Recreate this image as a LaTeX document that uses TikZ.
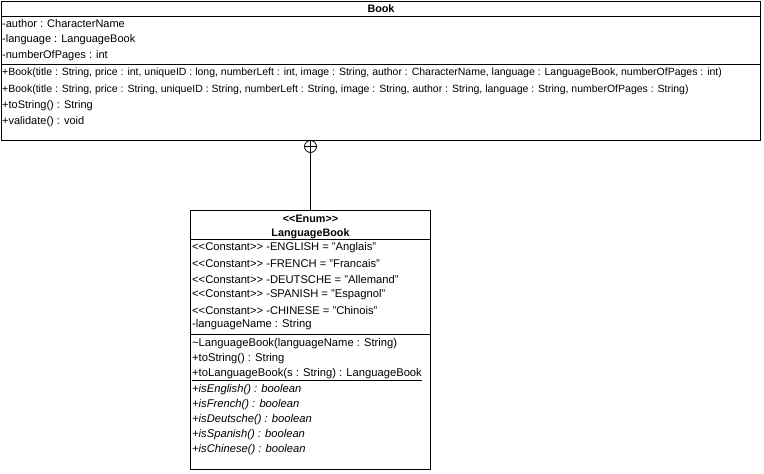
\documentclass[tikz,border=0pt]{standalone}
\usepackage{fontspec}
\setmainfont{Liberation Sans}
\begin{document}
\begin{tikzpicture}[x=1pt,y=-1pt,
  box/.style={draw,line width=0.9pt,anchor=north west,inner sep=0pt,outer sep=0pt},
  txt/.style={anchor=west,inner sep=0pt,font=\fontsize{10.5}{12}\selectfont},
  txtb/.style={anchor=west,inner sep=0pt,font=\fontsize{11}{12}\selectfont},
  txte/.style={anchor=west,inner sep=0pt,font=\fontsize{11.2}{12}\selectfont},
  ttl/.style={anchor=center,inner sep=0pt,font=\fontsize{10.8}{12}\selectfont\bfseries},
  sep/.style={line width=0.9pt},
  nestc/.style={draw,circle,line width=0.8pt,minimum size=12pt,inner sep=0pt}]
\useasboundingbox (0,0) rectangle (764,474);
% Book class
\node[box,minimum width=759pt,minimum height=139pt] (book) at (1,1) {};
\node[ttl] (bookt) at (381,8.5) {Book};
\draw[sep] (1,16) -- (760,16);
\node[txtb] (ba1) at (2,23.5) {-author : CharacterName};
\node[txtb] (ba2) at (2,40) {-language : LanguageBook};
\node[txtb] (ba3) at (2,56) {-numberOfPages : int};
\draw[sep] (1,64) -- (760,64);
\node[txt] (bm1) at (2,73) {+Book(title : String, price : int, uniqueID : long, numberLeft : int, image : String, author : CharacterName, language : LanguageBook, numberOfPages : int)};
\node[txt] (bm2) at (2,89.5) {+Book(title : String, price : String, uniqueID : String, numberLeft : String, image : String, author : String, language : String, numberOfPages : String)};
\node[txtb] (bm3) at (2,106) {+toString() : String};
\node[txtb] (bm4) at (2,122) {+validate() : void};
% Enum
\node[box,minimum width=240pt,minimum height=259pt] (enum) at (190.5,210.5) {};
\node[ttl] (et1) at (310.5,219) {<{}<Enum>{}>};
\node[ttl] (et2) at (310.5,233.5) {LanguageBook};
\draw[sep] (190.5,239.5) -- (430.5,239.5);
\node[txte] (ec1) at (192,248) {<{}<Constant>{}> -ENGLISH = "Anglais"};
\node[txte] (ec2) at (192,263.5) {<{}<Constant>{}> -FRENCH = "Francais"};
\node[txte] (ec3) at (192,279) {<{}<Constant>{}> -DEUTSCHE = "Allemand"};
\node[txte] (ec4) at (192,294.5) {<{}<Constant>{}> -SPANISH = "Espagnol"};
\node[txte] (ec5) at (192,310) {<{}<Constant>{}> -CHINESE = "Chinois"};
\node[txte] (ec6) at (192,325) {-languageName : String};
\draw[sep] (190.5,334) -- (430.5,334);
\node[txte] (em1) at (192,344) {\char`\~LanguageBook(languageName : String)};
\node[txte] (em2) at (192,359) {+toString() : String};
\node[txte] (em3) at (192,374.5) {\underline{+toLanguageBook(s : String) : LanguageBook}};
\node[txte] (em4) at (192,390) {\itshape +isEnglish() : boolean};
\node[txte] (em5) at (192,405) {\itshape +isFrench() : boolean};
\node[txte] (em6) at (192,420) {\itshape +isDeutsche() : boolean};
\node[txte] (em7) at (192,435) {\itshape +isSpanish() : boolean};
\node[txte] (em8) at (192,450) {\itshape +isChinese() : boolean};
% nesting connector
\node[nestc] (nest) at (310.5,146.5) {};
\draw[line width=0.8pt] (nest.north) -- (nest.south) (nest.west) -- (nest.east);
\draw[line width=0.9pt] (nest.south) -- (nest.south |- enum.north);
\end{tikzpicture}
\end{document}
